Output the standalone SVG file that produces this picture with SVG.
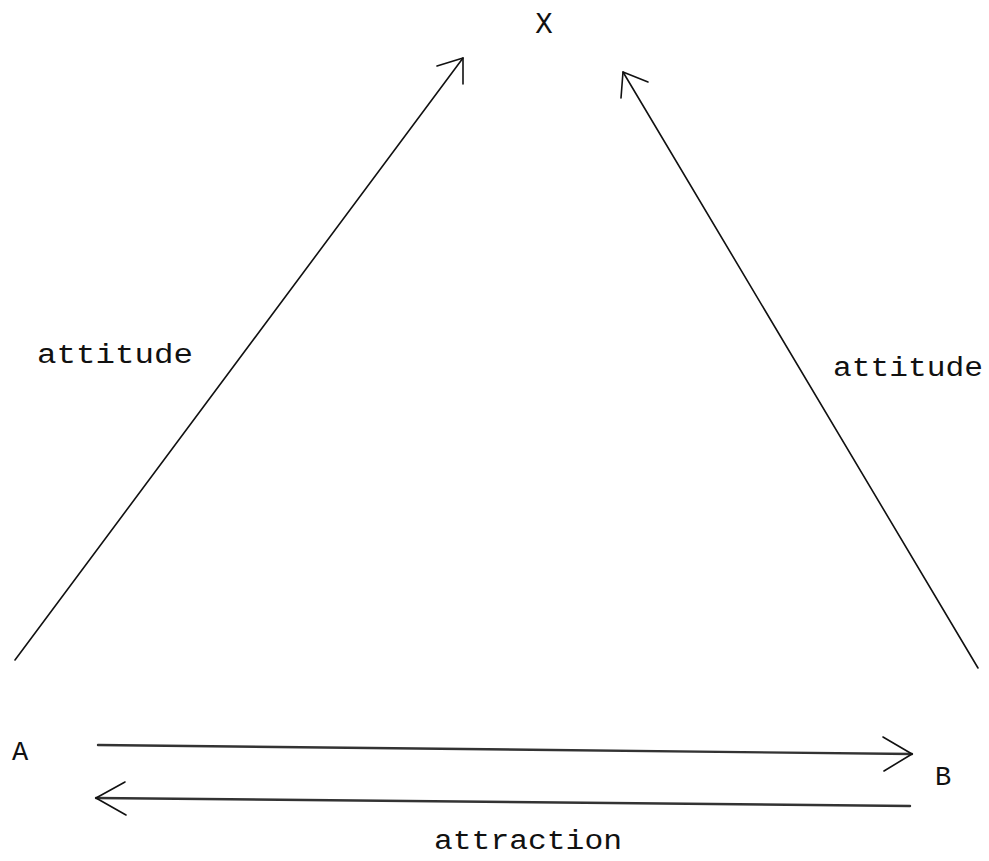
<svg xmlns="http://www.w3.org/2000/svg" width="989" height="861" viewBox="0 0 989 861">
<style>
.t{font-family:"Liberation Mono","DejaVu Sans Mono",monospace;fill:#111;}
.l{stroke:#111;stroke-width:1.6;fill:none;stroke-linecap:round;stroke-linejoin:round;}
.h{stroke:#333;stroke-width:2.4;fill:none;stroke-linecap:round;stroke-linejoin:round;}
</style>
<rect width="989" height="861" fill="#fff"/>
<g id="node-X"><text class="t" x="544" y="33" font-size="29" text-anchor="middle">X</text></g>
<g id="node-A"><text class="t" x="20" y="760" font-size="27" text-anchor="middle">A</text></g>
<g id="node-B"><text class="t" x="943" y="785" font-size="27" text-anchor="middle">B</text></g>
<g id="connectors">
<path class="l" d="M15 660 L463 58"/>
<path class="l" d="M437 66 L463 58 L463 84"/>
<path class="l" d="M978 668 L623 72"/>
<path class="l" d="M648 82 L623 72 L621 98"/>
<path class="h" d="M98 745 L912 754"/>
<path class="l" d="M883 737 L912 754 L884 771"/>
<path class="h" d="M910 806 L96 798"/>
<path class="l" d="M125 782 L96 798 L126 815"/>
</g>
<g id="labels">
<text class="t" x="37" y="363" font-size="27" textLength="156" lengthAdjust="spacingAndGlyphs">attitude</text>
<text class="t" x="833" y="376" font-size="27" textLength="150" lengthAdjust="spacingAndGlyphs">attitude</text>
<text class="t" x="434" y="849" font-size="27" textLength="188" lengthAdjust="spacingAndGlyphs">attraction</text>
</g>
</svg>
